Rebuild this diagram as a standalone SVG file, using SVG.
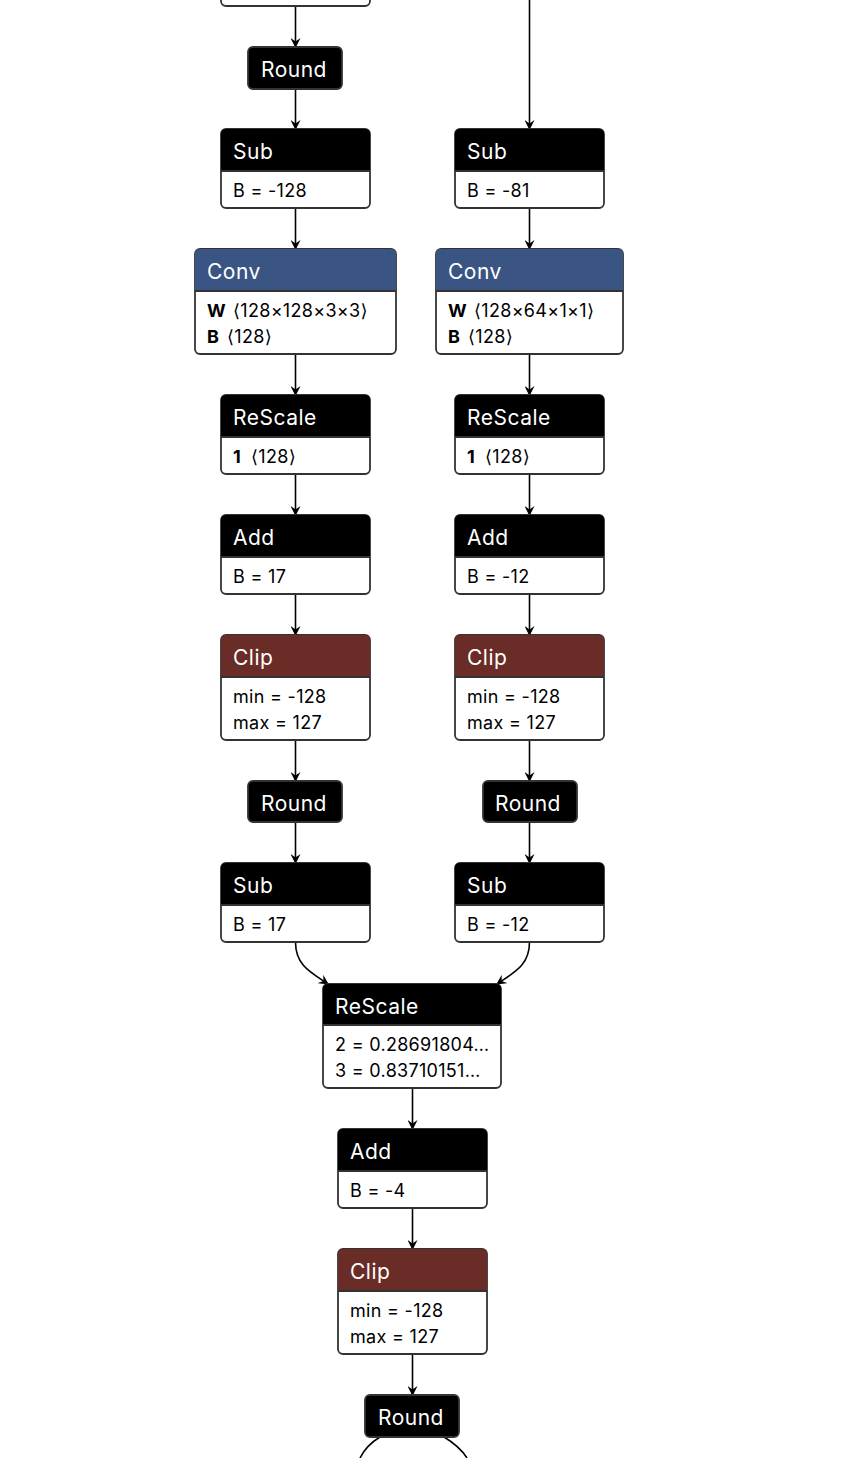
<svg xmlns="http://www.w3.org/2000/svg" width="848" height="1458" viewBox="0 0 848 1458">
<defs>
<marker id="arr" viewBox="0 0 10 10" refX="9" refY="5" markerWidth="10" markerHeight="10" markerUnits="userSpaceOnUse" orient="auto">
<path d="M0,0 L10,5 L0,10 L3.5,5 Z" fill="#000"/>
</marker>
<style>
.box{fill:#fff;stroke:#333;stroke-width:1.8}
.rb{fill:#000;stroke:#333;stroke-width:1.8}
.hb{fill:#000}
.hc{fill:#3a5583}
.hr{fill:#6a2c26}
.sep{stroke:#333;stroke-width:1.8}
.ht{font-family:Inter,"Liberation Sans",sans-serif;font-size:21px;letter-spacing:0.5px;fill:#fff}
.bt{font-family:Inter,"Liberation Sans","DejaVu Sans",sans-serif;font-size:18px;letter-spacing:0.3px;fill:#000}
.b{font-weight:bold}
.edge{fill:none;stroke:#000;stroke-width:1.6;marker-end:url(#arr)}
.edgen{fill:none;stroke:#000;stroke-width:1.6}
</style>
</defs>
<g id="edges">
<path class="edge" d="M295.5,6 V47"/>
<path class="edge" d="M295.5,89 V129"/>
<path class="edge" d="M529.5,0 V129"/>
<path class="edge" d="M295.5,208 V249"/>
<path class="edge" d="M529.5,208 V249"/>
<path class="edge" d="M295.5,354 V395"/>
<path class="edge" d="M529.5,354 V395"/>
<path class="edge" d="M295.5,474 V515"/>
<path class="edge" d="M529.5,474 V515"/>
<path class="edge" d="M295.5,594 V635"/>
<path class="edge" d="M529.5,594 V635"/>
<path class="edge" d="M295.5,740 V781"/>
<path class="edge" d="M529.5,740 V781"/>
<path class="edge" d="M295.5,822 V863"/>
<path class="edge" d="M529.5,822 V863"/>
<path class="edge" d="M295.5,942 C295.5,965 310,972 328,984"/>
<path class="edge" d="M529.5,942 C529.5,965 515,972 497,984"/>
<path class="edge" d="M412.5,1088 V1129"/>
<path class="edge" d="M412.5,1208 V1249"/>
<path class="edge" d="M412.5,1354 V1395"/>
<path class="edgen" d="M380,1437 C370,1443 364,1450 360,1458"/>
<path class="edgen" d="M444,1437 C454,1443 462,1450 467,1458"/>
</g>
<g id="node-top">
<rect class="box" x="221" y="-40" width="149" height="46" rx="5"/>
</g>
<g id="node-round1">
<rect class="rb" x="248" y="47" width="94" height="42" rx="5"/>
<text class="ht" x="261" y="77">Round</text>
</g>
<g id="node-sub1">
<rect class="box" x="221" y="129" width="149" height="79" rx="5"/>
<path class="hb" d="M221,171 V134 Q221,129 226,129 H365 Q370,129 370,134 V171 Z"/>
<line class="sep" x1="221" y1="171" x2="370" y2="171"/>
<text class="ht" x="233" y="159">Sub</text>
<text class="bt" x="233" y="197">B = -128</text>
</g>
<g id="node-sub2">
<rect class="box" x="455" y="129" width="149" height="79" rx="5"/>
<path class="hb" d="M455,171 V134 Q455,129 460,129 H599 Q604,129 604,134 V171 Z"/>
<line class="sep" x1="455" y1="171" x2="604" y2="171"/>
<text class="ht" x="467" y="159">Sub</text>
<text class="bt" x="467" y="197">B = -81</text>
</g>
<g id="node-conv1">
<rect class="box" x="195" y="249" width="201" height="105" rx="5"/>
<path class="hc" d="M195,291 V254 Q195,249 200,249 H391 Q396,249 396,254 V291 Z"/>
<line class="sep" x1="195" y1="291" x2="396" y2="291"/>
<text class="ht" x="207" y="279">Conv</text>
<text class="bt" x="207" y="317"><tspan class="b">W</tspan><tspan x="233">⟨128×128×3×3⟩</tspan></text>
<text class="bt" x="207" y="343"><tspan class="b">B</tspan><tspan x="227">⟨128⟩</tspan></text>
</g>
<g id="node-conv2">
<rect class="box" x="436" y="249" width="187" height="105" rx="5"/>
<path class="hc" d="M436,291 V254 Q436,249 441,249 H618 Q623,249 623,254 V291 Z"/>
<line class="sep" x1="436" y1="291" x2="623" y2="291"/>
<text class="ht" x="448" y="279">Conv</text>
<text class="bt" x="448" y="317"><tspan class="b">W</tspan><tspan x="474">⟨128×64×1×1⟩</tspan></text>
<text class="bt" x="448" y="343"><tspan class="b">B</tspan><tspan x="468">⟨128⟩</tspan></text>
</g>
<g id="node-rescale1">
<rect class="box" x="221" y="395" width="149" height="79" rx="5"/>
<path class="hb" d="M221,437 V400 Q221,395 226,395 H365 Q370,395 370,400 V437 Z"/>
<line class="sep" x1="221" y1="437" x2="370" y2="437"/>
<text class="ht" x="233" y="425">ReScale</text>
<text class="bt" x="233" y="463"><tspan class="b">1</tspan><tspan x="251">⟨128⟩</tspan></text>
</g>
<g id="node-rescale2">
<rect class="box" x="455" y="395" width="149" height="79" rx="5"/>
<path class="hb" d="M455,437 V400 Q455,395 460,395 H599 Q604,395 604,400 V437 Z"/>
<line class="sep" x1="455" y1="437" x2="604" y2="437"/>
<text class="ht" x="467" y="425">ReScale</text>
<text class="bt" x="467" y="463"><tspan class="b">1</tspan><tspan x="485">⟨128⟩</tspan></text>
</g>
<g id="node-add1">
<rect class="box" x="221" y="515" width="149" height="79" rx="5"/>
<path class="hb" d="M221,557 V520 Q221,515 226,515 H365 Q370,515 370,520 V557 Z"/>
<line class="sep" x1="221" y1="557" x2="370" y2="557"/>
<text class="ht" x="233" y="545">Add</text>
<text class="bt" x="233" y="583">B = 17</text>
</g>
<g id="node-add2">
<rect class="box" x="455" y="515" width="149" height="79" rx="5"/>
<path class="hb" d="M455,557 V520 Q455,515 460,515 H599 Q604,515 604,520 V557 Z"/>
<line class="sep" x1="455" y1="557" x2="604" y2="557"/>
<text class="ht" x="467" y="545">Add</text>
<text class="bt" x="467" y="583">B = -12</text>
</g>
<g id="node-clip1">
<rect class="box" x="221" y="635" width="149" height="105" rx="5"/>
<path class="hr" d="M221,677 V640 Q221,635 226,635 H365 Q370,635 370,640 V677 Z"/>
<line class="sep" x1="221" y1="677" x2="370" y2="677"/>
<text class="ht" x="233" y="665">Clip</text>
<text class="bt" x="233" y="703">min = -128</text>
<text class="bt" x="233" y="729">max = 127</text>
</g>
<g id="node-clip2">
<rect class="box" x="455" y="635" width="149" height="105" rx="5"/>
<path class="hr" d="M455,677 V640 Q455,635 460,635 H599 Q604,635 604,640 V677 Z"/>
<line class="sep" x1="455" y1="677" x2="604" y2="677"/>
<text class="ht" x="467" y="665">Clip</text>
<text class="bt" x="467" y="703">min = -128</text>
<text class="bt" x="467" y="729">max = 127</text>
</g>
<g id="node-round2">
<rect class="rb" x="248" y="781" width="94" height="41" rx="5"/>
<text class="ht" x="261" y="811">Round</text>
</g>
<g id="node-round3">
<rect class="rb" x="483" y="781" width="94" height="41" rx="5"/>
<text class="ht" x="495" y="811">Round</text>
</g>
<g id="node-sub3">
<rect class="box" x="221" y="863" width="149" height="79" rx="5"/>
<path class="hb" d="M221,905 V868 Q221,863 226,863 H365 Q370,863 370,868 V905 Z"/>
<line class="sep" x1="221" y1="905" x2="370" y2="905"/>
<text class="ht" x="233" y="893">Sub</text>
<text class="bt" x="233" y="931">B = 17</text>
</g>
<g id="node-sub4">
<rect class="box" x="455" y="863" width="149" height="79" rx="5"/>
<path class="hb" d="M455,905 V868 Q455,863 460,863 H599 Q604,863 604,868 V905 Z"/>
<line class="sep" x1="455" y1="905" x2="604" y2="905"/>
<text class="ht" x="467" y="893">Sub</text>
<text class="bt" x="467" y="931">B = -12</text>
</g>
<g id="node-rescale3">
<rect class="box" x="323" y="984" width="178" height="104" rx="5"/>
<path class="hb" d="M323,1025 V989 Q323,984 328,984 H496 Q501,984 501,989 V1025 Z"/>
<line class="sep" x1="323" y1="1025" x2="501" y2="1025"/>
<text class="ht" x="335" y="1014">ReScale</text>
<text class="bt" x="335" y="1051">2 = 0.28691804…</text>
<text class="bt" x="335" y="1077">3 = 0.83710151…</text>
</g>
<g id="node-add3">
<rect class="box" x="338" y="1129" width="149" height="79" rx="5"/>
<path class="hb" d="M338,1171 V1134 Q338,1129 343,1129 H482 Q487,1129 487,1134 V1171 Z"/>
<line class="sep" x1="338" y1="1171" x2="487" y2="1171"/>
<text class="ht" x="350" y="1159">Add</text>
<text class="bt" x="350" y="1197">B = -4</text>
</g>
<g id="node-clip3">
<rect class="box" x="338" y="1249" width="149" height="105" rx="5"/>
<path class="hr" d="M338,1291 V1254 Q338,1249 343,1249 H482 Q487,1249 487,1254 V1291 Z"/>
<line class="sep" x1="338" y1="1291" x2="487" y2="1291"/>
<text class="ht" x="350" y="1279">Clip</text>
<text class="bt" x="350" y="1317">min = -128</text>
<text class="bt" x="350" y="1343">max = 127</text>
</g>
<g id="node-round4">
<rect class="rb" x="365" y="1395" width="94" height="42" rx="5"/>
<text class="ht" x="378" y="1425">Round</text>
</g>
</svg>
